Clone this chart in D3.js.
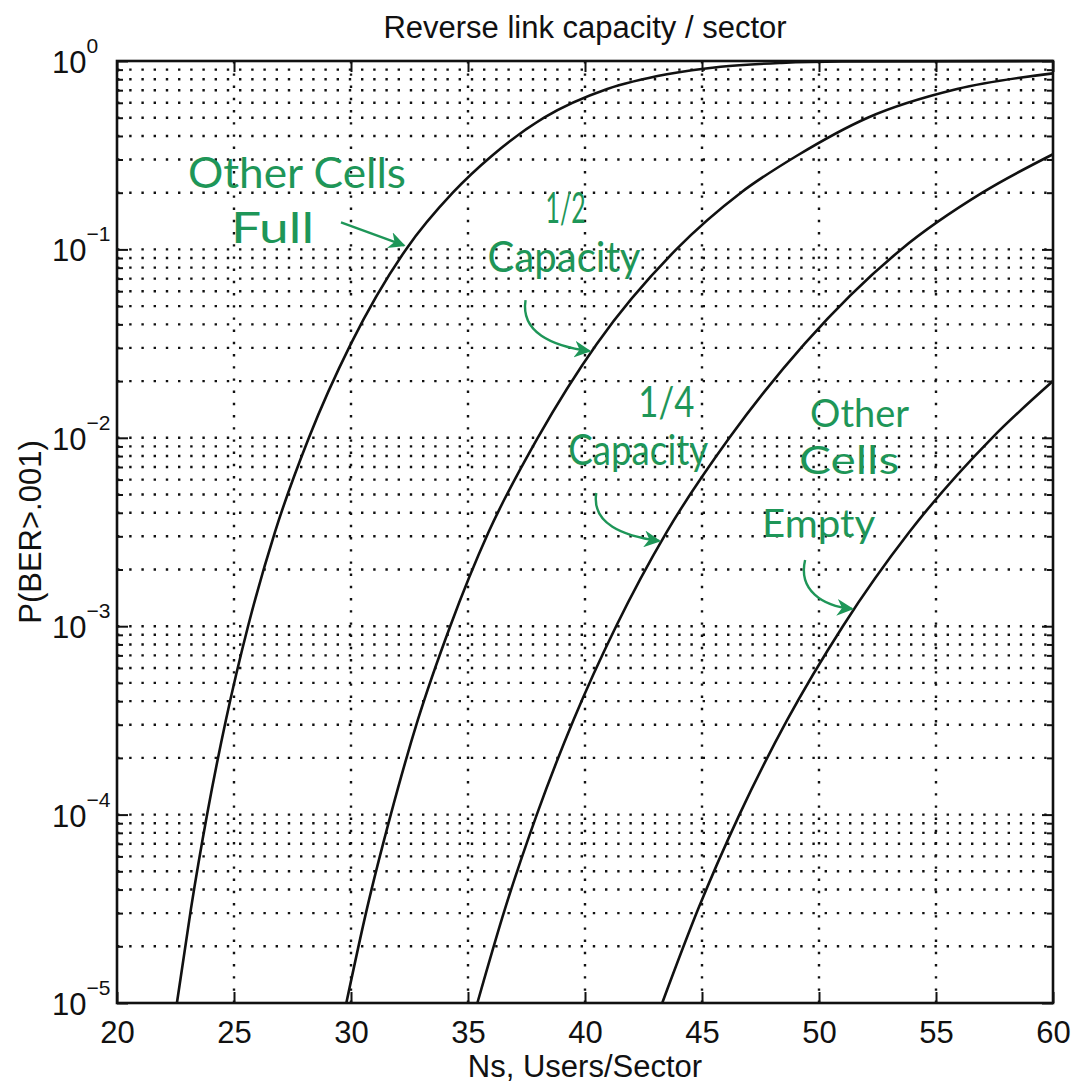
<!DOCTYPE html>
<html lang="en">
<head>
<meta charset="UTF-8">
<title>Reverse link capacity / sector</title>
<script src="https://cdn.jsdelivr.net/npm/d3@7"></script>
<style>
  body { margin: 0; background: #fff; }
  svg text { font-family: "Liberation Sans", Arial, Helvetica, sans-serif; fill: #111; }
  svg text.note { font-family: Lato, "Open Sans", sans-serif; font-weight: 400; fill: #1e9658; }
</style>
</head>
<body>
<svg id="chart" width="1079" height="1090"></svg>
<script>
// x axis: users per sector, y axis: P(BER > .001) on a log scale
const xTicks = [20, 25, 30, 35, 40, 45, 50, 55, 60];
const yDecades = [0, -1, -2, -3, -4, -5];

// curves (N, probability)
const fullN = [22.56, 23.16, 23.85, 24.65, 25.6, 26.75, 28.2, 30.0, 32.35, 34.35, 36.05, 38.25, 40.95, 43.5, 45.8, 48.4, 51.0, 60];
const fullP = [1e-5, 3.16e-5, 1e-4, 3.16e-4, 1e-3, 3.16e-3, 1e-2, 3.16e-2, 0.1, 0.2, 0.316, 0.5, 0.71, 0.85, 0.933, 0.977, 0.993, 1.0];

const halfN = [29.8, 30.68, 31.7, 32.85, 34.24, 35.88, 37.98, 40.51, 43.9, 46.66, 49.09, 52.08, 55.9, 60];
const halfP = [1e-5, 3.16e-5, 1e-4, 3.16e-4, 1e-3, 3.16e-3, 1e-2, 3.16e-2, 0.1, 0.2, 0.316, 0.5, 0.71, 0.86];

const quarterN = [35.4, 36.58, 37.94, 39.5, 41.33, 43.49, 46.17, 49.39, 53.51, 56.98, 60];
const quarterP = [1e-5, 3.16e-5, 1e-4, 3.16e-4, 1e-3, 3.16e-3, 1e-2, 3.16e-2, 0.1, 0.2, 0.32];

const emptyN = [43.3, 44.84, 46.6, 48.63, 51.02, 53.86, 57.4, 60];
const emptyP = [1e-5, 3.16e-5, 1e-4, 3.16e-4, 1e-3, 3.16e-3, 1e-2, 2e-2];

const svg = d3.select("#chart");
const m = {left: 117, right: 1053, top: 61, bottom: 1003};

const x = d3.scaleLinear().domain([20, 60]).range([m.left, m.right]);
const y = d3.scaleLog().domain([1e-5, 1]).range([m.bottom, m.top]);

const green = "#1e9658";

// dotted grid
const grid = svg.append("g").attr("stroke", "#111").attr("stroke-width", 2.4)
    .attr("stroke-dasharray", "2.4 9.8").attr("fill", "none");
grid.selectAll("line.h")
  .data(y.ticks().filter(v => v > 1e-5 * 1.01 && v < 0.99))
  .join("line")
    .attr("class", "h")
    .attr("x1", m.left).attr("x2", m.right)
    .attr("y1", d => y(d)).attr("y2", d => y(d));
grid.selectAll("line.v")
  .data(xTicks.slice(1, -1))
  .join("line")
    .attr("class", "v")
    .attr("y1", m.bottom).attr("y2", m.top)
    .attr("x1", d => x(d)).attr("x2", d => x(d));

// tick marks pointing inward on all four sides
const majors = yDecades.map(d => Math.pow(10, d));
const minors = y.ticks().filter(v => !majors.some(mj => Math.abs(v / mj - 1) < 1e-6));

function tickAxis(axis, tx, ty) {
  const g = svg.append("g").attr("transform", `translate(${tx},${ty})`).call(axis);
  g.select(".domain").remove();
  g.selectAll("line").attr("stroke", "#111").attr("stroke-width", 2);
  return g;
}
tickAxis(d3.axisLeft(y).tickValues(minors).tickSize(-6).tickFormat(""), m.left, 0);
tickAxis(d3.axisLeft(y).tickValues(majors).tickSize(-11).tickFormat(""), m.left, 0);
tickAxis(d3.axisRight(y).tickValues(minors).tickSize(-6).tickFormat(""), m.right, 0);
tickAxis(d3.axisRight(y).tickValues(majors).tickSize(-11).tickFormat(""), m.right, 0);
tickAxis(d3.axisTop(x).tickValues(xTicks).tickSize(-11).tickFormat(""), 0, m.top);

const xAxis = tickAxis(d3.axisBottom(x).tickValues(xTicks).tickSize(-11).tickPadding(18), 0, m.bottom);
xAxis.selectAll("text").attr("font-size", 31).attr("fill", "#111")
    .attr("font-family", "'Liberation Sans', Arial, sans-serif");

// y tick labels as 10 with superscript exponent
const yLab = svg.append("g").selectAll("text")
  .data(yDecades)
  .join("text")
    .attr("x", 52)
    .attr("y", d => y(Math.pow(10, d)) + 12)
    .attr("font-size", 31);
yLab.append("tspan").text("10");
yLab.append("tspan")
    .attr("font-size", 21)
    .attr("dy", -20)
    .text(d => d === 0 ? "0" : "\u2212" + (-d));

// curves
const line = d3.line().x(d => x(d[0])).y(d => y(d[1])).curve(d3.curveMonotoneX);
const series = [
  [fullN, fullP],
  [halfN, halfP],
  [quarterN, quarterP],
  [emptyN, emptyP]
];
svg.append("g").selectAll("path")
  .data(series)
  .join("path")
    .attr("d", s => line(d3.zip(s[0], s[1])))
    .attr("fill", "none")
    .attr("stroke", "#111")
    .attr("stroke-width", 2.6);

// frame
svg.append("rect")
    .attr("x", m.left).attr("y", m.top)
    .attr("width", m.right - m.left).attr("height", m.bottom - m.top)
    .attr("fill", "none").attr("stroke", "#111").attr("stroke-width", 2.6);

// titles
svg.append("text").attr("x", (m.left + m.right) / 2).attr("y", 38)
    .attr("text-anchor", "middle").attr("font-size", 31)
    .text("Reverse link capacity / sector");
svg.append("text").attr("x", (m.left + m.right) / 2).attr("y", 1077)
    .attr("text-anchor", "middle").attr("font-size", 31)
    .text("Ns, Users/Sector");
svg.append("text")
    .attr("transform", `translate(41,${(m.top + m.bottom) / 2}) rotate(-90)`)
    .attr("text-anchor", "middle").attr("font-size", 31)
    .text("P(BER>.001)");

// handwritten notes: arrow tip sits on the curve, text offset from it
svg.append("defs").append("marker")
    .attr("id", "head").attr("viewBox", "0 0 10 10")
    .attr("refX", 9).attr("refY", 5)
    .attr("markerWidth", 7).attr("markerHeight", 7)
    .attr("markerUnits", "strokeWidth")
    .attr("orient", "auto")
  .append("path").attr("d", "M0,0 L10,5 L0,10 L3,5 z").attr("fill", green);

const notes = [
  { tip: [32.35, 0.1], size: 42, lines: [["Other Cells", -218, -61, 218], ["Full", -175, -6, 83]],
    arrow: "M-65,-27 L-2,-4" },
  { tip: [40.28, 0.0285], size: 42, lines: [["1/2", -46, -129, 40], ["Capacity", -104, -80, 153]],
    arrow: "M-66,-52 C-71,-20 -40,-6 -2,-1" },
  { tip: [43.26, 0.0028], size: 42, lines: [["1/4", -23, -125, 56], ["Capacity", -93, -77, 140]],
    arrow: "M-65,-49 C-70,-18 -38,-6 -2,-1" },
  { tip: [51.5, 0.00122], size: 38, lines: [["Other", -44, -183, 99], ["Cells", -55, -136, 100], ["Empty", -92, -73, 113]],
    arrow: "M-49,-50 C-56,-20 -32,-4 -2,-1" }
];

const note = svg.append("g").selectAll("g")
  .data(notes)
  .join("g")
    .attr("transform", d => `translate(${x(d.tip[0])},${y(d.tip[1])})`);
note.append("path")
    .attr("d", d => d.arrow)
    .attr("fill", "none").attr("stroke", green).attr("stroke-width", 2.4)
    .attr("marker-end", "url(#head)");
// each note is one text element, its lines are tspans
note.append("text")
    .attr("class", "note")
    .attr("font-size", d => d.size)
  .selectAll("tspan")
  .data(d => d.lines)
  .join("tspan")
    .attr("x", d => d[1]).attr("y", d => d[2])
    .attr("textLength", d => d[3])
    .attr("lengthAdjust", "spacingAndGlyphs")
    .text(d => d[0]);
</script>
</body>
</html>
